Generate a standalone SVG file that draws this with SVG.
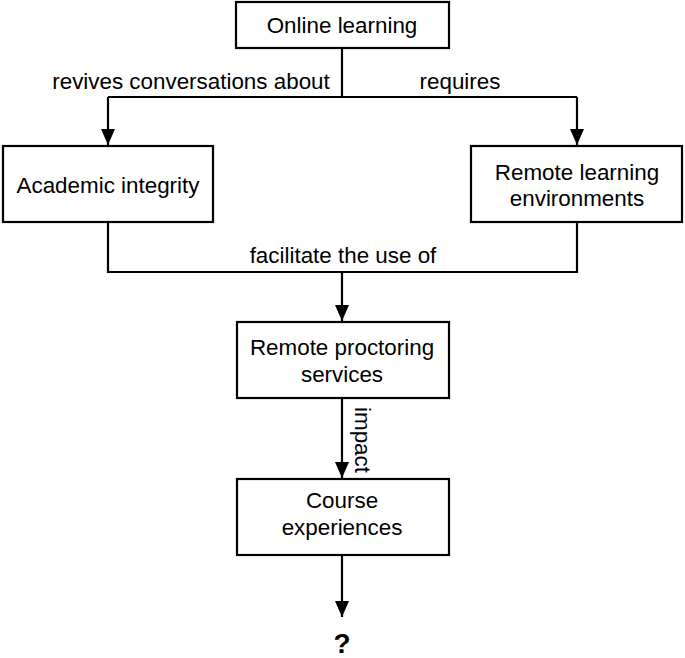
<svg xmlns="http://www.w3.org/2000/svg" width="685" height="658" viewBox="0 0 685 658">
<style>
.box{fill:#fff;stroke:#000;stroke-width:2.2}
.t{font-family:"Liberation Sans",Arial,sans-serif;font-size:22.4px;fill:#000;text-anchor:middle}
.ln{fill:none;stroke:#000;stroke-width:2.2}
</style>
<defs>
<marker id="ah" markerUnits="userSpaceOnUse" markerWidth="16" markerHeight="14" viewBox="0 0 16 14" refX="16" refY="7" orient="auto">
<path d="M0,0 L16,7 L0,14 Z" fill="#000"/>
</marker>
</defs>
<rect width="685" height="658" fill="#fff"/>
<g id="connectors">
<path class="ln" d="M342,48 V97"/>
<path class="ln" d="M108,97 H577"/>
<path class="ln" d="M108,97 V145" marker-end="url(#ah)"/>
<path class="ln" d="M577,97 V145" marker-end="url(#ah)"/>
<path class="ln" d="M108,222 V272 H577 V222"/>
<path class="ln" d="M342,272 V321" marker-end="url(#ah)"/>
<path class="ln" d="M342,398 V478" marker-end="url(#ah)"/>
<path class="ln" d="M342,555 V617" marker-end="url(#ah)"/>
<text class="t" x="191" y="89">revives conversations about</text>
<text class="t" x="460" y="89">requires</text>
<text class="t" x="343" y="263">facilitate the use of</text>
<text class="t" transform="translate(355,440) rotate(90)">impact</text>
</g>
<g id="n-online">
<rect class="box" x="236" y="2" width="213" height="46"/>
<text class="t" x="342" y="33">Online learning</text>
</g>
<g id="n-academic">
<rect class="box" x="3" y="146" width="210" height="76"/>
<text class="t" x="108" y="193">Academic integrity</text>
</g>
<g id="n-remote-env">
<rect class="box" x="471" y="146" width="211" height="76"/>
<text class="t" x="577" y="180">Remote learning</text>
<text class="t" x="577" y="206">environments</text>
</g>
<g id="n-proctoring">
<rect class="box" x="237" y="322" width="212" height="76"/>
<text class="t" x="342" y="355">Remote proctoring</text>
<text class="t" x="342" y="382">services</text>
</g>
<g id="n-course">
<rect class="box" x="237" y="479" width="212" height="76"/>
<text class="t" x="342" y="508">Course</text>
<text class="t" x="342" y="535">experiences</text>
</g>
<g id="n-question">
<text class="t" x="342" y="653" style="font-weight:bold;font-size:28px">?</text>
</g>
</svg>
